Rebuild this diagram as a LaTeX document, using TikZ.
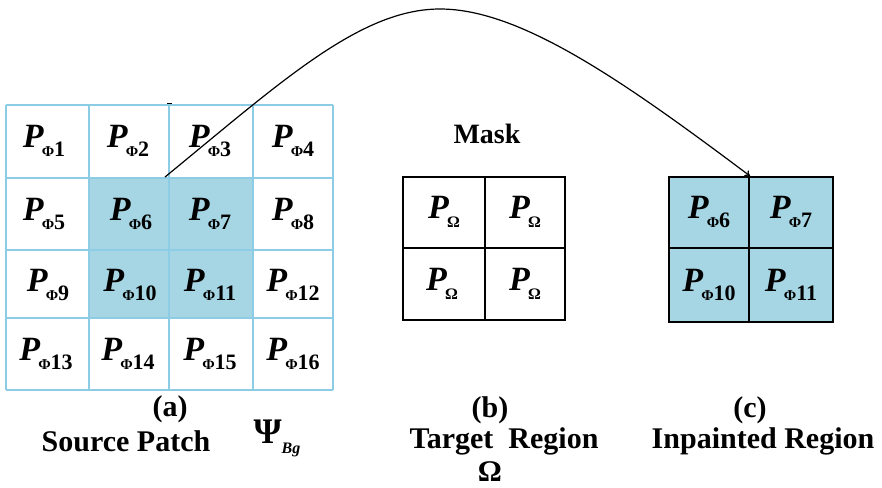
\documentclass[tikz,border=0pt]{standalone}
\usepackage{fontspec}
\setmainfont{Liberation Serif}
\usetikzlibrary{arrows.meta}
\definecolor{cellblue}{RGB}{166,214,228}
\definecolor{gridblue}{RGB}{140,204,228}
% patch label P with a Phi subscript
\newcommand\phlab[1]{\fontsize{34}{34}\selectfont\textbf{\textit{P}}\kern-2pt\raisebox{-9pt}{\bfseries{\fontsize{15}{15}\selectfont Φ}{\fontsize{22}{22}\selectfont #1}}}
% patch label P with an Omega subscript
\newcommand\omlab{\fontsize{34}{34}\selectfont\textbf{\textit{P}}\kern-2pt\raisebox{-9pt}{\bfseries\fontsize{16}{16}\selectfont Ω}}
\tikzset{
  lab/.style={inner sep=0pt, font=\fontsize{30}{30}\selectfont\bfseries},
  plab/.style={inner sep=0pt},
  srcgrid/.style={draw=gridblue, line width=1.6pt},
  maskgrid/.style={draw=black, line width=2.8pt},
  outgrid/.style={draw=black, line width=2pt},
}
\begin{document}
\begin{tikzpicture}[x=1pt,y=-1pt]
\useasboundingbox (0,0) rectangle (882,487);

% (a) source grid
\fill[cellblue] (89,178) rectangle (253,318);
\foreach \x in {6,89,169,253,333} \draw[srcgrid] (\x,105) -- (\x,390);
\foreach \y in {105,178,250,318,390} \draw[srcgrid] (6,\y) -- (333,\y);
\draw[black, line width=1.5pt] (167,103.5) -- (172,103.5);
\foreach \n/\x/\y in {1/44/141,2/128/141,3/210/141,4/293/141,
                      5/44/214,6/131/214,7/210/214,8/293/214,
                      9/48/285,10/130/285,11/210/285,12/293/285,
                      13/46/354,14/128/354,15/210/354,16/293/354}
  \node[plab] (s\n) at (\x,\y) {\phlab{\n}};

% (b) mask grid
\node[lab, font=\fontsize{28}{28}\selectfont\bfseries] (mask) at (487,134) {Mask};
\draw[maskgrid] (403,177) rectangle (565,320);
\draw[maskgrid] (485,177) -- (485,320) (403,248) -- (565,248);
\node[plab] (m1) at (444,212) {\omlab};
\node[plab] (m2) at (525,212) {\omlab};
\node[plab] (m3) at (442,284) {\omlab};
\node[plab] (m4) at (525,284) {\omlab};

% (c) inpainted grid
\fill[cellblue] (669,177) rectangle (833,322);
\draw[outgrid] (669,177) rectangle (833,322);
\draw[outgrid] (749,177) -- (749,322) (669,248) -- (833,248);
\node[plab] (r6) at (709,212) {\phlab{6}};
\node[plab] (r7) at (791,212) {\phlab{7}};
\node[plab] (r10) at (709,285) {\phlab{10}};
\node[plab] (r11) at (791,285) {\phlab{11}};

% copy arrow, in two curved pieces through its top
\coordinate (from) at (165,177);
\coordinate (top) at (440,9);
\coordinate (to) at (750,176);
\draw[black, line width=1.2pt, -{To[length=5pt,width=7pt]}]
  (from) .. controls (281,82) and (360,9) .. (top)
         .. controls (520,9) and (622,80) .. (to);

% captions
\node[lab] (ca) at (170,409) {(a)};
\node[lab] (cap1) at (126,441) {Source Patch};
\node[inner sep=0pt] (psi) at (277,438) {\fontsize{36}{36}\selectfont\bfseries Ψ\raisebox{-10pt}{\fontsize{16}{16}\selectfont\itshape Bg}};
\node[lab] (cb) at (490,410) {(b)};
\node[lab] (cap2) at (504,441) {Target\ \ Region};
\node[lab] (om) at (490,472) {Ω};
\node[lab] (cc) at (750,410) {(c)};
\node[lab] (cap3) at (763,441) {Inpainted Region};
\end{tikzpicture}
\end{document}
